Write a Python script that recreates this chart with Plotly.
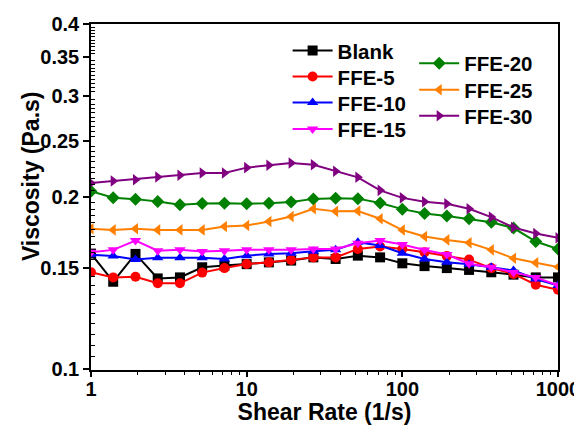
import numpy as np
import plotly.graph_objects as go

# Shear rate: 7 points per decade from 1 to 1000
shear_rate = [1.0, 1.389, 1.931, 2.683, 3.728, 5.179, 7.197, 10.0, 13.89, 19.31, 26.83,
              37.28, 51.79, 71.97, 100.0, 138.9, 193.1, 268.3, 372.8, 517.9, 719.7, 1000.0]

blank = [0.1590, 0.1420, 0.1588, 0.1439, 0.1445, 0.1505, 0.1515, 0.1524, 0.1535, 0.1546, 0.1566,
         0.1556, 0.1577, 0.1566, 0.1529, 0.1512, 0.1500, 0.1489, 0.1475, 0.1461, 0.1445, 0.1445]
ffe5 = [0.1475, 0.1445, 0.1449, 0.1411, 0.1411, 0.1473, 0.1500, 0.1525, 0.1535, 0.1550, 0.1566,
        0.1566, 0.1620, 0.1636, 0.1620, 0.1598, 0.1574, 0.1552, 0.1500, 0.1465, 0.1403, 0.1375]
ffe10 = [0.1582, 0.1575, 0.1552, 0.1563, 0.1563, 0.1563, 0.1556, 0.1577, 0.1588, 0.1592, 0.1605,
         0.1614, 0.1664, 0.1642, 0.1592, 0.1556, 0.1535, 0.1523, 0.1505, 0.1486, 0.1436, 0.1398]
ffe15 = [0.1598, 0.1614, 0.1676, 0.1609, 0.1614, 0.1603, 0.1609, 0.1614, 0.1614, 0.1614, 0.1620,
         0.1620, 0.1657, 0.1676, 0.1649, 0.1613, 0.1584, 0.1527, 0.1505, 0.1473, 0.1445, 0.1400]
ffe20 = [0.2042, 0.1990, 0.1979, 0.1961, 0.1935, 0.1945, 0.1947, 0.1943, 0.1947, 0.1956, 0.1981,
         0.1985, 0.1983, 0.1949, 0.1901, 0.1868, 0.1850, 0.1829, 0.1804, 0.1762, 0.1669, 0.1620]
ffe25 = [0.1757, 0.1749, 0.1757, 0.1749, 0.1749, 0.1749, 0.1773, 0.1780, 0.1809, 0.1846, 0.1904,
         0.1884, 0.1887, 0.1829, 0.1748, 0.1703, 0.1680, 0.1661, 0.1614, 0.1560, 0.1532, 0.1507]
ffe30 = [0.2111, 0.2128, 0.2140, 0.2163, 0.2178, 0.2198, 0.2198, 0.2246, 0.2267, 0.2289, 0.2272,
         0.2213, 0.2160, 0.2050, 0.1989, 0.1959, 0.1943, 0.1904, 0.1841, 0.1766, 0.1724, 0.1694]

y_tick_vals = [0.1, 0.15, 0.2, 0.25, 0.3, 0.35, 0.4]
y_tick_text = ["0.1", "0.15", "0.2", "0.25", "0.3", "0.35", "0.4"]
x_tick_vals = [1, 10, 100, 1000]
x_tick_text = ["1", "10", "100", "1000"]

# name, values, colour, marker, legend id, legend x (paper), legend y (paper, item centre)
series = [
    ("Blank", blank, "#000000", "square", "legend2", 0.421, 0.9228),
    ("FFE-5", ffe5, "#FF0000", "circle", "legend3", 0.421, 0.8477),
    ("FFE-10", ffe10, "#0000FF", "triangle-up", "legend4", 0.421, 0.7725),
    ("FFE-15", ffe15, "#FF00FF", "triangle-down", "legend5", 0.421, 0.6957),
    ("FFE-20", ffe20, "#008000", "diamond", "legend6", 0.692, 0.8864),
    ("FFE-25", ffe25, "#FF8000", "triangle-left", "legend7", 0.692, 0.8092),
    ("FFE-30", ffe30, "#800080", "triangle-right", "legend8", 0.692, 0.7341),
]

FONT = "Arial, 'Liberation Sans', sans-serif"

fig = go.Figure()
legends = {}
for name, vals, color, sym, leg, lx, ly in series:
    fig.add_trace(go.Scatter(
        x=shear_rate, y=vals, name=name, mode="lines+markers",
        line=dict(color=color, width=2),
        marker=dict(symbol=sym, size=10, color=color),
        legend=leg, showlegend=True,
    ))
    legends[leg] = dict(x=lx, y=ly, xanchor="left", yanchor="middle",
                        bgcolor="rgba(0,0,0,0)", borderwidth=0, visible=True,
                        font=dict(size=20.5, weight="bold"), itemwidth=40)

y_minor = [round(0.1 + 0.005 * i, 3) for i in range(61)]
y_minor = [v for v in y_minor if v not in y_tick_vals]
x_minor = [m * 10 ** d for d in range(3) for m in range(2, 10)]

# The page body has an 8px margin, so the figure is sized to fit inside it
fig.update_layout(
    width=574, height=417,
    margin=dict(l=83, r=24, t=16, b=55),
    paper_bgcolor="white", plot_bgcolor="white",
    font=dict(family=FONT, color="black", size=20, weight="bold"),
    xaxis=dict(
        type="log", range=[0, 3], automargin=False,
        tickmode="array", tickvals=x_tick_vals, ticktext=x_tick_text,
        ticks="outside", ticklen=5, tickwidth=1.5, tickcolor="black",
        ticklabelstandoff=-5,
        minor=dict(tickmode="array", tickvals=x_minor, ticks="outside",
                   ticklen=3, tickwidth=1, tickcolor="black", showgrid=False),
        showline=True, linecolor="black", linewidth=1.5, mirror=True,
        showgrid=False, zeroline=False,
        tickfont=dict(size=20, weight="bold"),
        title=dict(text="Shear Rate (1/s)", font=dict(size=23, weight="bold"), standoff=0),
    ),
    yaxis=dict(
        type="log", range=[np.log10(0.0996), np.log10(0.4)], automargin=False,
        tickmode="array", tickvals=y_tick_vals, ticktext=y_tick_text,
        ticks="outside", ticklen=6, tickwidth=1.5, tickcolor="black",
        minor=dict(tickmode="array", tickvals=y_minor, ticks="inside",
                   ticklen=4, tickwidth=1, tickcolor="black", showgrid=False),
        showline=True, linecolor="black", linewidth=1.5, mirror=True,
        showgrid=False, zeroline=False,
        tickfont=dict(size=20, weight="bold"),
    ),
    annotations=[dict(
        text="Viscosity (Pa.s)", textangle=-90, showarrow=False,
        xref="paper", yref="paper", x=-0.128, y=0.561,
        xanchor="center", yanchor="middle",
        font=dict(size=23, weight="bold", family=FONT),
    )],
    **legends,
)

fig.write_html("out.html")
